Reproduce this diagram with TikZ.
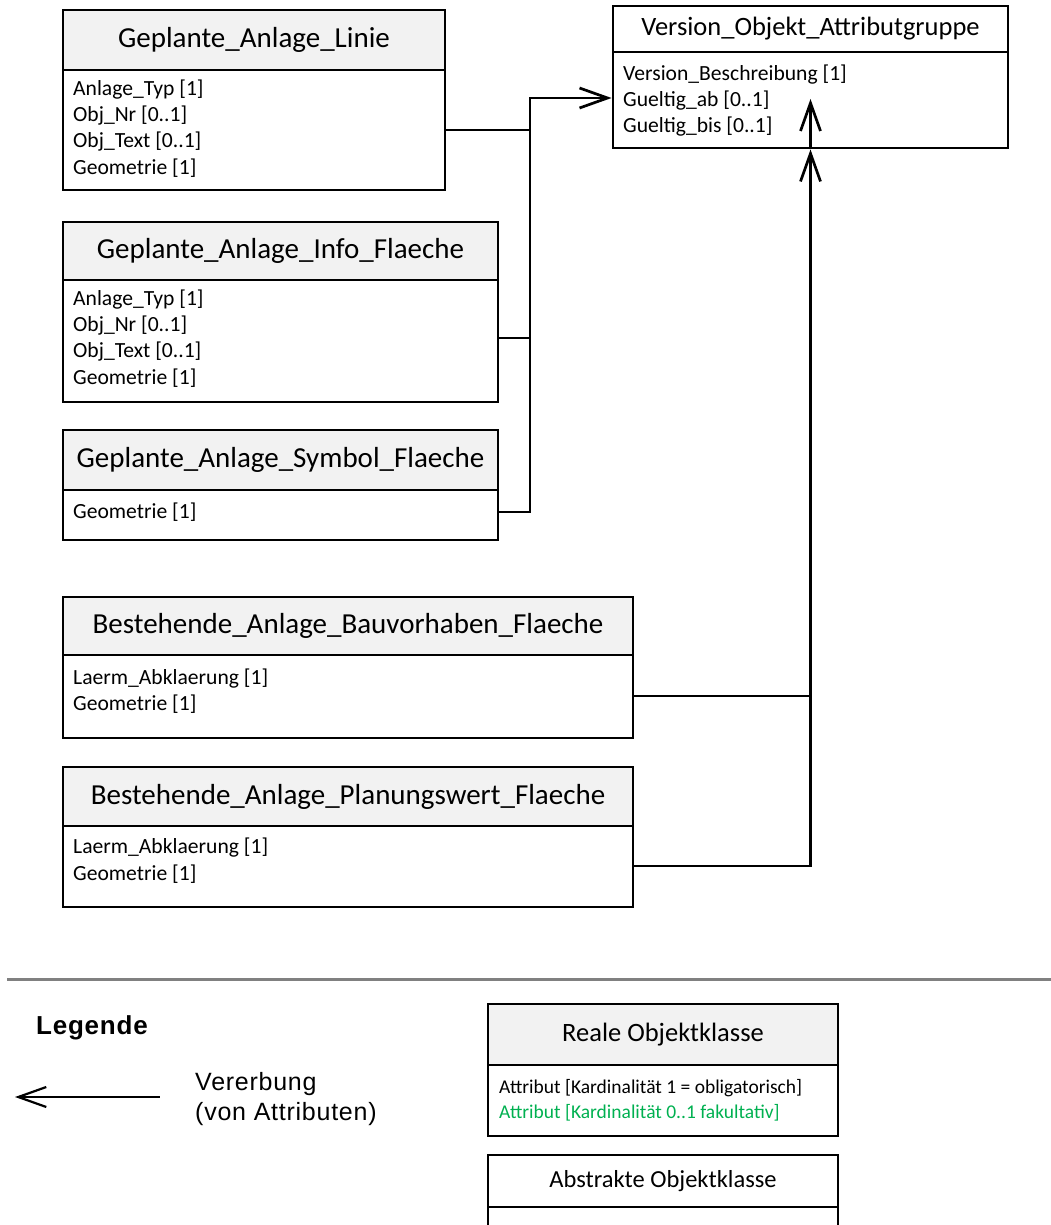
\documentclass[tikz,border=0pt]{standalone}
\usepackage{fontspec}
\setmainfont{Carlito}
\newfontfamily\legfont[LetterSpace=3]{Liberation Sans}
\usetikzlibrary{arrows.meta,fit,calc}
\definecolor{headgray}{HTML}{F2F2F2}
\definecolor{optgreen}{RGB}{0,176,80}
\definecolor{rulegray}{HTML}{808080}

% font sizes (1pt = 1 unit of the drawing)
\newcommand\fTitle{\fontsize{29}{32}\selectfont}
\newcommand\fTitleV{\fontsize{26.5}{30}\selectfont}
\newcommand\fTitleL{\fontsize{26.5}{30}\selectfont}
\newcommand\fTitleA{\fontsize{24.5}{28}\selectfont}
\newcommand\fAttr{\fontsize{21.6}{25}\selectfont}
\newcommand\fAttrL{\fontsize{19.5}{23}\selectfont}

% class box: name, left, top, right, bottom, header bottom, title, title font, header fill
\newcommand\classbox[9]{%
  \fill[#9] (#2,#3) rectangle (#4,#6);
  \node[frame, fit={(#2,#3) (#4,#5)}] (#1) {};
  \draw[frameline] (#2,#6) -- (#4,#6);
  \node[font=#8] (#1-title) at ({(#2+#4)/2},{(#3+#6)/2}) {#7};
}

\begin{document}
\begin{tikzpicture}[
  x=1pt, y=-1pt,
  frame/.style={draw, line width=2.9pt, inner sep=0pt},
  frameline/.style={line width=2.9pt},
  attr/.style={anchor=west, inner sep=0pt, font=\fAttr},
  attrl/.style={anchor=west, inner sep=0pt, font=\fAttrL},
  conn/.style={line width=2.7pt},
  >={Straight Barb[length=28pt,width=20pt]},
  legtext/.style={anchor=west, inner sep=0pt, font=\legfont\fontsize{25}{30}\selectfont},
]
\useasboundingbox (0,0) rectangle (1051,1225);
\clip (0,0) rectangle (1051,1225);

% ---- classes ----
\classbox{b1}{63}{10}{445}{190}{70}{Geplante\_Anlage\_Linie}{\fTitle}{headgray}
\node[attr] (b1-a1) at (73,90)  {Anlage\_Typ [1]};
\node[attr] (b1-a2) at (73,116) {Obj\_Nr [0..1]};
\node[attr] (b1-a3) at (73,142) {Obj\_Text [0..1]};
\node[attr] (b1-a4) at (73,168) {Geometrie [1]};

\classbox{b2}{63}{222}{498}{402}{280}{Geplante\_Anlage\_Info\_Flaeche}{\fTitle}{headgray}
\node[attr] (b2-a1) at (73,300) {Anlage\_Typ [1]};
\node[attr] (b2-a2) at (73,326) {Obj\_Nr [0..1]};
\node[attr] (b2-a3) at (73,352) {Obj\_Text [0..1]};
\node[attr] (b2-a4) at (73,378) {Geometrie [1]};

\classbox{b3}{63}{430}{498}{540}{490}{Geplante\_Anlage\_Symbol\_Flaeche}{\fTitle}{headgray}
\node[attr] (b3-a1) at (73,512) {Geometrie [1]};

\classbox{b4}{63}{597}{633}{738}{655}{Bestehende\_Anlage\_Bauvorhaben\_Flaeche}{\fTitle}{headgray}
\node[attr] (b4-a1) at (73,679) {Laerm\_Abklaerung [1]};
\node[attr] (b4-a2) at (73,704) {Geometrie [1]};

\classbox{b5}{63}{767}{633}{907}{826}{Bestehende\_Anlage\_Planungswert\_Flaeche}{\fTitle}{headgray}
\node[attr] (b5-a1) at (73,848) {Laerm\_Abklaerung [1]};
\node[attr] (b5-a2) at (73,874) {Geometrie [1]};

\classbox{v}{613}{6}{1008}{148}{52}{Version\_Objekt\_Attributgruppe}{\fTitleV}{white}
\node[attr] (v-a1) at (623,75)  {Version\_Beschreibung [1]};
\node[attr] (v-a2) at (623,101) {Gueltig\_ab [0..1]};
\node[attr] (v-a3) at (623,127) {Gueltig\_bis [0..1]};

% ---- inheritance connectors ----
\path ([yshift=-30pt]b1.east)   coordinate (b1c)
      ([yshift=-26pt]b2.east)   coordinate (b2c)
      ([yshift=-27pt]b3.east)   coordinate (b3c)
      ([yshift=-28.5pt]b4.east) coordinate (b4c)
      ([yshift=-29pt]b5.east)   coordinate (b5c)
      ([yshift=-21pt]v.west)    coordinate (vin);
\coordinate (busA) at (530,98);
\coordinate (vtop) at (810.5,99);

\draw[conn,->] (b3c) -| (busA) -- (vin);
\draw[conn] (b1c) -- (b1c -| busA);
\draw[conn] (b2c) -- (b2c -| busA);

\draw[conn,->] (b5c) -| (v.south);
\draw[conn] (b4c) -- (b4c -| v.south);
\draw[conn,->] (v.south) -- (vtop);

% ---- legend ----
\coordinate (sepL) at (7,979);
\coordinate (sepR) at (1051,979);
\draw[line width=3pt, rulegray] (sepL) -- (sepR);

\node[legtext, font=\legfont\bfseries\fontsize{26}{30}\selectfont] (legtitle) at (36,1028) {Legende};

\coordinate (arrL) at (15,1097);
\coordinate (arrR) at (160,1097);
\draw[line width=2.2pt,<-] (arrL) -- (arrR);
\node[legtext] (inh1) at (195,1084) {Vererbung};
\node[legtext] (inh2) at (195,1114) {(von Attributen)};

\classbox{real}{488}{1004}{838}{1136}{1065}{Reale Objektklasse}{\fTitleL}{headgray}
\node[attrl] (real-a1) at (499,1088) {Attribut [Kardinalität 1 = obligatorisch]};
\node[attrl, text=optgreen] (real-a2) at (499,1113) {Attribut [Kardinalität 0..1 fakultativ]};

\classbox{abstr}{488}{1155}{838}{1250}{1207}{Abstrakte Objektklasse}{\fTitleA}{white}
\end{tikzpicture}
\end{document}
